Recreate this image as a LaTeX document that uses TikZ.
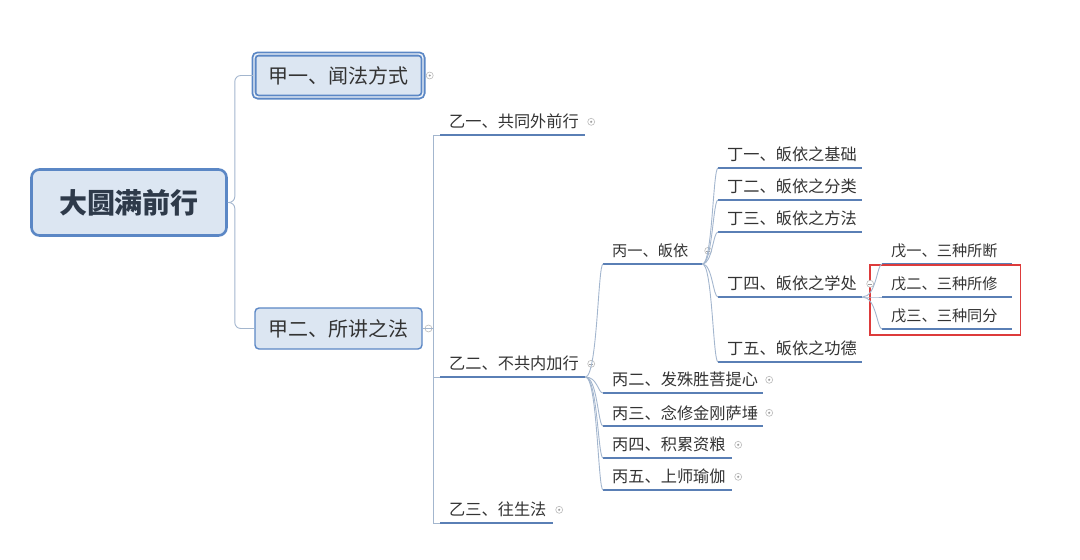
\documentclass[tikz,border=0pt]{standalone}
\usepackage{fontspec}
\setmainfont{Noto Sans CJK SC}
\usepackage{xcolor}
\usetikzlibrary{positioning,fit}
\definecolor{boxfill}{HTML}{DCE6F2}
\definecolor{boxline}{HTML}{5B87C5}
\definecolor{ulinec}{HTML}{5A7FB5}
\definecolor{linkgray}{HTML}{A3B6CE}
\definecolor{inkgray}{HTML}{333333}
\definecolor{rootink}{HTML}{2E3A4A}
\definecolor{markred}{HTML}{DD3B3B}
\tikzset{
  link/.style={color=linkgray, line width=0.9pt},
  elbow/.style={to path={-- ++(#1,0) |- (\tikztotarget)}},
  branch/.style={to path={.. controls +(#1,0) and +(-5,0) .. (\tikztotarget)}},
  uline/.style={draw=ulinec, line width=2.4pt},
  root/.style={rounded corners=8pt, fill=boxfill, draw=boxline, line width=2.6pt,
    minimum width=195pt, minimum height=66pt, text=rootink,
    font=\fontsize{28}{30}\selectfont\bfseries},
  jiabox/.style={rounded corners=4pt, fill=boxfill, draw=boxline, line width=1.4pt,
    minimum width=167pt, minimum height=41pt, text=inkgray,
    font=\fontsize{20}{22}\selectfont},
  selected/.style={double=white!55!boxfill, double distance=1.4pt, line width=1.8pt,
    minimum width=169pt, minimum height=43pt},
  topic/.style={anchor=south west, inner xsep=9pt, inner ysep=0pt, minimum height=26pt,
    text width=#1, align=left, text=inkgray, font=\fontsize{16.2}{20}\selectfont,
    append after command={(\tikzlastnode.south west) edge[uline] (\tikzlastnode.south east)}},
  small/.style={font=\fontsize{15.2}{18}\selectfont},
  fold/.style={circle, draw=gray!55, line width=0.6pt, fill=white, minimum size=7pt, inner sep=0pt},
  foldshut/.style={fold, path picture={\fill[gray!75] (path picture bounding box.center) circle (1.2pt);}},
  foldopen/.style={fold, path picture={\draw[gray!75, line width=0.6pt]
    ([xshift=1.6pt]path picture bounding box.west) -- ([xshift=-1.6pt]path picture bounding box.east);}},
  redbox/.style={draw=markred, line width=1.8pt, inner xsep=10pt, inner ysep=6pt}
}
\begin{document}
\begin{tikzpicture}[x=1pt,y=-1pt]
  \useasboundingbox (0,0) rectangle (1080,560);
  % root and main topics
  \node[root] (dym) at (129,202.5) {大圆满前行};
  \node[jiabox,selected] (jia1) at (338.5,75.5) {甲一、闻法方式};
  \node[jiabox] (jia2) at (338.5,328.5) {甲二、所讲之法};
  % subtopics
  \node[topic=127] (yi1) at (440,135) {乙一、共同外前行};
  \node[topic=127] (yi2) at (440,377) {乙二、不共内加行};
  \node[topic=95] (yi3) at (440,523) {乙三、往生法};
  \node[topic=81,small] (bing1) at (603,264) {丙一、皈依};
  \node[topic=142] (bing2) at (603,393) {丙二、发殊胜菩提心};
  \node[topic=142] (bing3) at (603,426) {丙三、念修金刚萨埵};
  \node[topic=111] (bing4) at (603,458) {丙四、积累资粮};
  \node[topic=111] (bing5) at (603,490) {丙五、上师瑜伽};
  \node[topic=126] (ding1) at (718,168) {丁一、皈依之基础};
  \node[topic=126] (ding2) at (718,200) {丁二、皈依之分类};
  \node[topic=126] (ding3) at (718,232) {丁三、皈依之方法};
  \node[topic=126] (ding4) at (718,297) {丁四、皈依之学处};
  \node[topic=126] (ding5) at (718,362) {丁五、皈依之功德};
  \node[topic=112,small] (wu1) at (882,264) {戊一、三种所断};
  \node[topic=112,small] (wu2) at (882,297) {戊二、三种所修};
  \node[topic=112,small] (wu3) at (882,329) {戊三、三种同分};
  \node[redbox, fit=(wu2)(wu3), xshift=-2pt] (hl) {};
  % fold markers
  \node[foldshut, right=2pt of jia1] (fjia1) {};
  \node[foldopen, right=2pt of jia2] (fjia2) {};
  \node[foldshut, right=2pt of yi1] (fyi1) {};
  \node[foldopen, right=2pt of yi2] (fyi2) {};
  \node[foldshut, right=2pt of yi3] (fyi3) {};
  \node[foldopen, right=2pt of bing1] (fbing1) {};
  \node[foldshut, right=2pt of bing2] (fbing2) {};
  \node[foldshut, right=2pt of bing3] (fbing3) {};
  \node[foldshut, right=2pt of bing4] (fbing4) {};
  \node[foldshut, right=2pt of bing5] (fbing5) {};
  \node[foldopen, right=4pt of ding4] (fding4) {};
  % connectors
  \path[link, rounded corners=6pt]
    (dym.east) edge[elbow=7] (jia1.west)
    (dym.east) edge[elbow=7] (jia2.west);
  \path[link]
    (jia2.east) edge[elbow=11] (yi1.south west)
    (jia2.east) edge[elbow=11] (yi2.south west)
    (jia2.east) edge[elbow=11] (yi3.south west);
  \path[link]
    (yi2.south east) edge[branch=12] (bing1.south west)
    (yi2.south east) edge[branch=12] (bing2.south west)
    (yi2.south east) edge[branch=12] (bing3.south west)
    (yi2.south east) edge[branch=12] (bing4.south west)
    (yi2.south east) edge[branch=12] (bing5.south west)
    (bing1.south east) edge[branch=10] (ding1.south west)
    (bing1.south east) edge[branch=10] (ding2.south west)
    (bing1.south east) edge[branch=10] (ding3.south west)
    (bing1.south east) edge[branch=10] (ding4.south west)
    (bing1.south east) edge[branch=10] (ding5.south west)
    (ding4.south east) edge[branch=14] (wu1.south west)
    (ding4.south east) edge[branch=14] (wu2.south west)
    (ding4.south east) edge[branch=14] (wu3.south west);
\end{tikzpicture}
\end{document}
